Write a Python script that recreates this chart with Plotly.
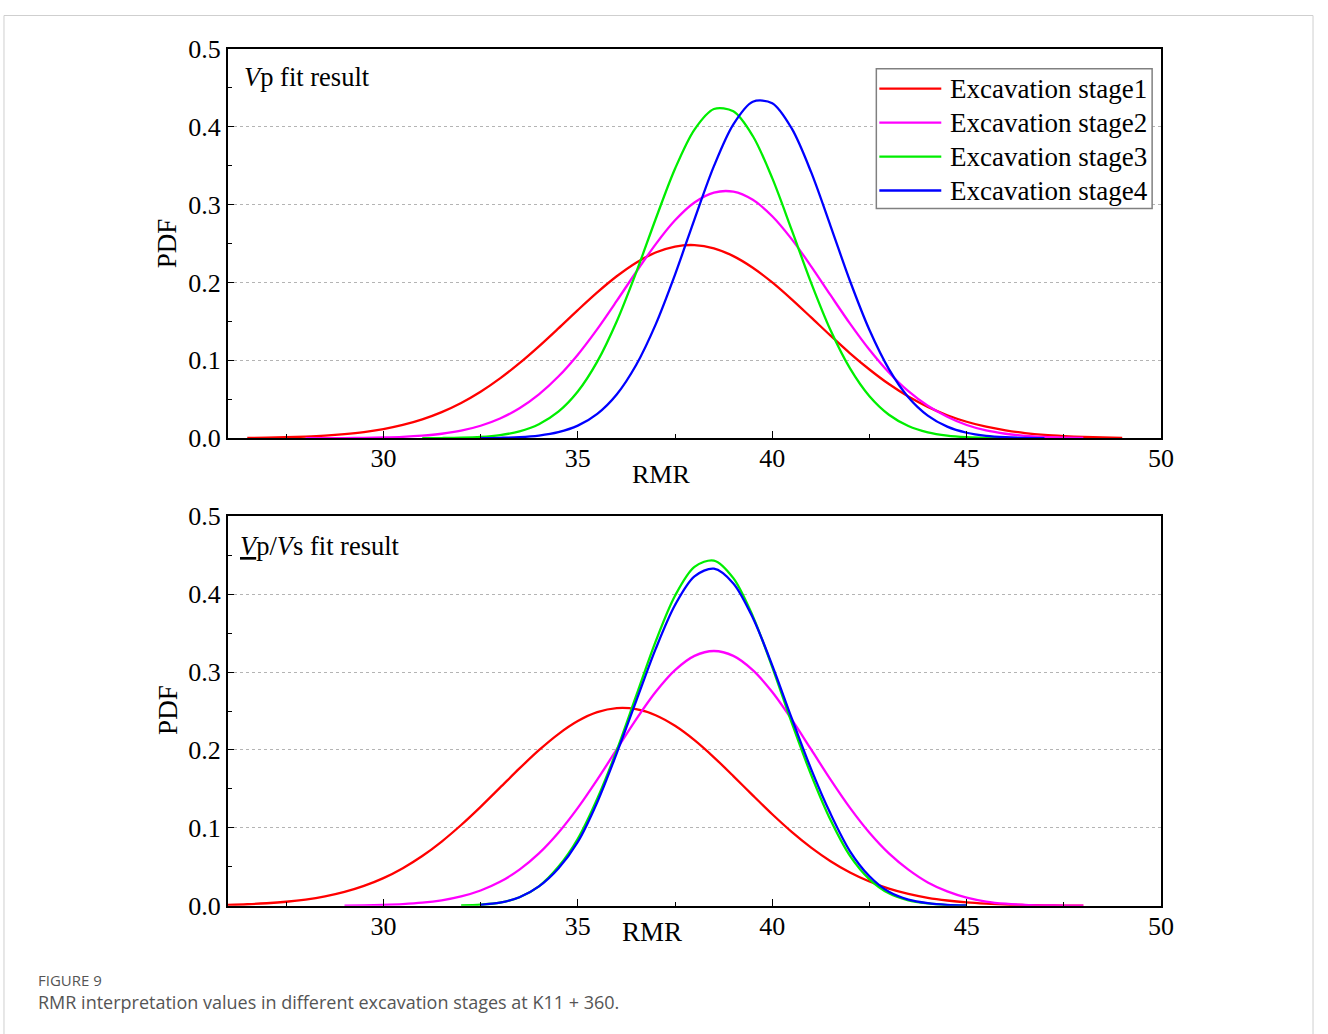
import plotly.graph_objects as go

# ---------------- data ----------------
stage_names = ["Excavation stage1", "Excavation stage2", "Excavation stage3", "Excavation stage4"]
stage_colors = ["#ff0000", "#ff00ff", "#00ee00", "#0000ff"]

# Top panel: Vp fit result  (x step 0.5)
vp_s1_x = [26.5 + 0.5 * i for i in range(46)]          # 26.5 .. 49.0
vp_s1_y = [0.0004, 0.0008, 0.0013, 0.0021, 0.0033, 0.0052, 0.0079, 0.0118, 0.0171, 0.0243,
           0.0336, 0.0453, 0.0597, 0.0768, 0.0964, 0.1180, 0.1410, 0.1645, 0.1872, 0.2079,
           0.2254, 0.2384, 0.2461, 0.2479, 0.2437, 0.2338, 0.2189, 0.2000, 0.1783, 0.1551,
           0.1317, 0.1091, 0.0883, 0.0696, 0.0536, 0.0403, 0.0296, 0.0212, 0.0148, 0.0101,
           0.0067, 0.0043, 0.0028, 0.0017, 0.0010, 0.0006]

vp_s2_x = [28.0 + 0.5 * i for i in range(41)]          # 28.0 .. 48.0
vp_s2_y = [0.0001, 0.0001, 0.0002, 0.0005, 0.0010, 0.0018, 0.0033, 0.0058, 0.0098, 0.0161,
           0.0254, 0.0385, 0.0563, 0.0792, 0.1073, 0.1401, 0.1762, 0.2134, 0.2489, 0.2797,
           0.3026, 0.3153, 0.3165, 0.3060, 0.2850, 0.2556, 0.2207, 0.1836, 0.1471, 0.1135,
           0.0844, 0.0604, 0.0417, 0.0277, 0.0170, 0.0100, 0.0058, 0.0032, 0.0017, 0.0009,
           0.0004]

vp_s3_x = [31.0 + 0.5 * i for i in range(31)]          # 31.0 .. 46.0
vp_s3_y = [0.0001, 0.0003, 0.0007, 0.0017, 0.0041, 0.0089, 0.0181, 0.0341, 0.0600, 0.0983,
           0.1499, 0.2127, 0.2811, 0.3459, 0.3962, 0.4226, 0.4196, 0.3879, 0.3338, 0.2674,
           0.1995, 0.1386, 0.0896, 0.0539, 0.0302, 0.0158, 0.0077, 0.0035, 0.0015, 0.0006,
           0.0002]

vp_s4_x = [32.5 + 0.5 * i for i in range(30)]          # 32.5 .. 47.0
vp_s4_y = [0.0002, 0.0006, 0.0014, 0.0035, 0.0078, 0.0162, 0.0314, 0.0563, 0.0941, 0.1459,
           0.2101, 0.2810, 0.3492, 0.4029, 0.4319, 0.4300, 0.3976, 0.3415, 0.2724, 0.2018,
           0.1389, 0.0888, 0.0527, 0.0291, 0.0149, 0.0071, 0.0031, 0.0013, 0.0005, 0.0002]

# Bottom panel: Vp/Vs fit result  (x step 0.5)
vs_s1_x = [26.0 + 0.5 * i for i in range(45)]          # 26.0 .. 48.0
vs_s1_y = [0.0012, 0.0020, 0.0033, 0.0052, 0.0080, 0.0121, 0.0178, 0.0255, 0.0355, 0.0483,
           0.0639, 0.0825, 0.1037, 0.1270, 0.1516, 0.1763, 0.1997, 0.2204, 0.2371, 0.2485,
           0.2537, 0.2524, 0.2446, 0.2310, 0.2126, 0.1906, 0.1665, 0.1417, 0.1175, 0.0949,
           0.0747, 0.0573, 0.0428, 0.0312, 0.0221, 0.0153, 0.0103, 0.0068, 0.0043, 0.0027,
           0.0016, 0.0010, 0.0006, 0.0003, 0.0002]

vs_s2_x = [29.0 + 0.5 * i for i in range(39)]          # 29.0 .. 48.0
vs_s2_y = [0.0003, 0.0006, 0.0012, 0.0022, 0.0040, 0.0071, 0.0121, 0.0197, 0.0308, 0.0464,
           0.0672, 0.0937, 0.1256, 0.1619, 0.2007, 0.2392, 0.2743, 0.3024, 0.3207, 0.3270,
           0.3207, 0.3024, 0.2743, 0.2392, 0.2007, 0.1619, 0.1256, 0.0937, 0.0672, 0.0464,
           0.0300, 0.0185, 0.0105, 0.0055, 0.0027, 0.0013, 0.0006, 0.0003, 0.0001]

vs_s3_x = [32.0 + 0.5 * i for i in range(27)]          # 32.0 .. 45.0
vs_s3_y = [0.0005, 0.0015, 0.0040, 0.0110, 0.0250, 0.0500, 0.0860, 0.1374, 0.1993, 0.2693,
           0.3391, 0.3980, 0.4350, 0.4431, 0.4205, 0.3718, 0.3063, 0.2351, 0.1681, 0.1100,
           0.0640, 0.0340, 0.0160, 0.0070, 0.0030, 0.0010, 0.0003]

vs_s4_x = [32.5 + 0.5 * i for i in range(26)]          # 32.5 .. 45.0
vs_s4_y = [0.0013, 0.0040, 0.0110, 0.0250, 0.0480, 0.0820, 0.1330, 0.1957, 0.2626, 0.3294,
           0.3860, 0.4228, 0.4326, 0.4137, 0.3696, 0.3086, 0.2408, 0.1755, 0.1180, 0.0700,
           0.0380, 0.0180, 0.0080, 0.0035, 0.0013, 0.0004]

x_ticks = [30, 35, 40, 45, 50]
x_minor = [27.5, 32.5, 37.5, 42.5, 47.5]
y_ticks = [0.0, 0.1, 0.2, 0.3, 0.4, 0.5]
y_minor = [0.05, 0.15, 0.25, 0.35, 0.45]

top_series = [(vp_s1_x, vp_s1_y), (vp_s2_x, vp_s2_y), (vp_s3_x, vp_s3_y), (vp_s4_x, vp_s4_y)]
bot_series = [(vs_s1_x, vs_s1_y), (vs_s2_x, vs_s2_y), (vs_s3_x, vs_s3_y), (vs_s4_x, vs_s4_y)]

# ---------------- figure ----------------
SERIF = "Liberation Serif, Times New Roman, serif"
W, H = 1328, 1034
# effective drawing box observed in the viewer (used to place items by target pixel)
EFF_W, EFF_H, EFF_TOP = 1316.0, 1006.0, 13.3

def px_x(p):
    return p / EFF_W

def px_y(p):
    return 1 - (p - EFF_TOP) / EFF_H

fig = go.Figure()
for i, (xs, ys) in enumerate(top_series):
    fig.add_trace(go.Scatter(x=xs, y=ys, mode="lines", name=stage_names[i],
                             line=dict(color=stage_colors[i], width=2.3, shape="spline", smoothing=0.9),
                             xaxis="x", yaxis="y", showlegend=False))
for i, (xs, ys) in enumerate(bot_series):
    fig.add_trace(go.Scatter(x=xs, y=ys, mode="lines", name=stage_names[i],
                             line=dict(color=stage_colors[i], width=2.3, shape="spline", smoothing=0.9),
                             xaxis="x2", yaxis="y2", showlegend=False))

xdom = [px_x(228), px_x(1162)]
top_dom = [px_y(438), px_y(48)]
bot_dom = [px_y(906), px_y(516)]

def xaxis_cfg(anchor):
    return dict(domain=xdom, anchor=anchor, range=[26, 50], tickvals=x_ticks,
                ticktext=[str(v) for v in x_ticks],
                ticks="inside", ticklen=7, tickwidth=1.3, tickcolor="black",
                minor=dict(tickvals=x_minor, ticks="inside", ticklen=4,
                           tickwidth=1.2, tickcolor="black"),
                showline=True, linecolor="black", linewidth=1.6, mirror=True,
                showgrid=False, zeroline=False, ticklabelstandoff=-4,
                tickfont=dict(family=SERIF, size=26, color="black"))

def yaxis_cfg(anchor, dom):
    return dict(domain=dom, anchor=anchor, range=[0, 0.5], tickvals=y_ticks,
                ticktext=["%.1f" % v for v in y_ticks],
                ticks="inside", ticklen=6, tickwidth=1.3, tickcolor="black",
                minor=dict(tickvals=y_minor, ticks="inside", ticklen=4,
                           tickwidth=1.2, tickcolor="black"),
                showline=True, linecolor="black", linewidth=1.6, mirror=True,
                showgrid=True, gridcolor="#b4b4b4", griddash="dot", gridwidth=1.2,
                zeroline=False,
                tickfont=dict(family=SERIF, size=26, color="black"))

annotations = [
    dict(text="<i>V</i>p fit result", x=px_x(242), y=px_y(76), xanchor="left", yanchor="middle",
         font=dict(family=SERIF, size=26.5, color="black")),
    dict(text="<u><i>V</i></u>p/<i>V</i>s fit result", x=px_x(238), y=px_y(546), xanchor="left", yanchor="middle",
         font=dict(family=SERIF, size=26.5, color="black")),
    dict(text="PDF", x=px_x(168), y=px_y(243), textangle=-90, xanchor="center", yanchor="middle",
         font=dict(family=SERIF, size=27, color="black")),
    dict(text="PDF", x=px_x(168), y=px_y(710), textangle=-90, xanchor="center", yanchor="middle",
         font=dict(family=SERIF, size=27, color="black")),
    dict(text="RMR", x=px_x(662), y=px_y(474), xanchor="center", yanchor="middle",
         font=dict(family=SERIF, size=26, color="black")),
    dict(text="RMR", x=px_x(652), y=px_y(932), xanchor="center", yanchor="middle",
         font=dict(family=SERIF, size=27, color="black")),
    dict(text="FIGURE 9", x=px_x(36), y=px_y(980), xanchor="left", yanchor="middle",
         font=dict(family="Open Sans, sans-serif", size=15, color="#555555")),
    dict(text="RMR interpretation values in different excavation stages at K11 + 360.",
         x=px_x(36), y=px_y(1002), xanchor="left", yanchor="middle",
         font=dict(family="Open Sans, sans-serif", size=18, color="#555555")),
]

# legend drawn as a framed key in the top panel
legend_rows_y = [88, 122, 156, 190]
shapes = [dict(type="rect", xref="paper", yref="paper", x0=px_x(4), x1=0.9985,
               y0=-0.05, y1=0.9985, line=dict(color="#cfcfcf", width=1), layer="below"),
          dict(type="rect", xref="paper", yref="paper", x0=px_x(877), x1=px_x(1153),
               y0=px_y(208), y1=px_y(68), line=dict(color="#808080", width=1.5),
               fillcolor="white", layer="above")]
for name, color, ry in zip(stage_names, stage_colors, legend_rows_y):
    shapes.append(dict(type="line", xref="paper", yref="paper", x0=px_x(880), x1=px_x(942),
                       y0=px_y(ry), y1=px_y(ry), line=dict(color=color, width=2.3), layer="above"))
    annotations.append(dict(text=name, x=px_x(949), y=px_y(ry), xanchor="left", yanchor="middle",
                            font=dict(family=SERIF, size=27, color="black")))

for a in annotations:
    a.update(xref="paper", yref="paper", showarrow=False)

fig.update_layout(
    width=W, height=H, autosize=False,
    margin=dict(l=0, r=0, t=0, b=0, pad=0),
    paper_bgcolor="white", plot_bgcolor="white",
    xaxis=xaxis_cfg("y"), yaxis=yaxis_cfg("x", top_dom),
    xaxis2=xaxis_cfg("y2"), yaxis2=yaxis_cfg("x2", bot_dom),
    showlegend=False,
    annotations=annotations,
    shapes=shapes,
)

fig.write_html("out.html")
